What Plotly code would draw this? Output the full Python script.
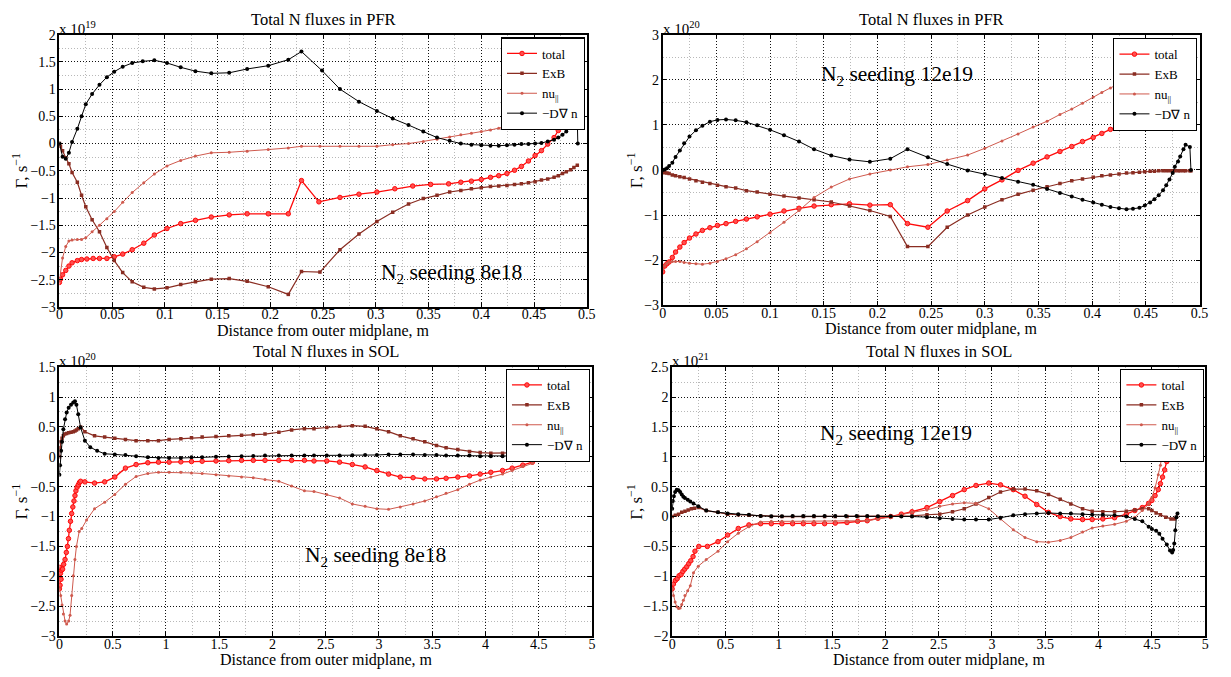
import plotly.graph_objects as go

FONT = "Liberation Serif"

# ---------------- Panel 1: PFR, N2 seeding 8e18 (units 1e19) ----------------
p1_dgn_x = [0, 0.003, 0.006, 0.009, 0.012, 0.017, 0.021, 0.025, 0.031, 0.038, 0.045, 0.052, 0.060, 0.069,
            0.079, 0.090, 0.102, 0.115, 0.129, 0.144, 0.161, 0.178, 0.198, 0.217, 0.2295, 0.249, 0.266, 0.284,
            0.301, 0.316, 0.331, 0.345, 0.358, 0.370, 0.3806, 0.3906, 0.400, 0.4087, 0.4165, 0.4243, 0.4315,
            0.438, 0.4447, 0.451, 0.457, 0.463, 0.469, 0.473, 0.477, 0.4806, 0.4847, 0.4878, 0.491, 0.4915]
p1_dgn_y = [0, -0.24, -0.28, -0.17, 0.03, 0.27, 0.50, 0.72, 0.91, 1.08, 1.22, 1.32, 1.41, 1.48,
            1.51, 1.53, 1.48, 1.40, 1.33, 1.29, 1.30, 1.37, 1.43, 1.54, 1.69, 1.34, 1.00, 0.77,
            0.60, 0.46, 0.34, 0.22, 0.11, 0.05, 0.0, -0.02, -0.03, -0.04, -0.04, -0.03, -0.02,
            -0.01, -0.01, 0.0, 0.01, 0.04, 0.07, 0.11, 0.16, 0.22, 0.31, 0.38, 0.44, 0.0]

p1_tot_x = [0, 0.001, 0.003, 0.006, 0.009, 0.012, 0.017, 0.021, 0.026, 0.032, 0.038, 0.045, 0.052, 0.060,
            0.069, 0.080, 0.090, 0.102, 0.115, 0.129, 0.144, 0.161, 0.178, 0.198, 0.217, 0.2295, 0.246,
            0.266, 0.284, 0.301, 0.318, 0.335, 0.352, 0.369, 0.3806, 0.3906, 0.400, 0.4087, 0.4165, 0.4243,
            0.4315, 0.438, 0.4447, 0.451, 0.457, 0.463, 0.469, 0.473, 0.477, 0.4806, 0.4847, 0.4878, 0.491]
p1_tot_y = [-2.55, -2.49, -2.41, -2.33, -2.25, -2.19, -2.15, -2.13, -2.12, -2.11, -2.11, -2.11, -2.08, -2.03,
            -1.95, -1.83, -1.68, -1.56, -1.47, -1.41, -1.35, -1.31, -1.29, -1.29, -1.29, -0.68, -1.07,
            -0.99, -0.93, -0.89, -0.83, -0.78, -0.75, -0.74, -0.71, -0.69, -0.66, -0.62, -0.59, -0.55,
            -0.49, -0.42, -0.32, -0.22, -0.13, -0.01, 0.11, 0.24, 0.38, 0.50, 0.62, 0.72, 0.85]

p1_exb_x = [0, 0.001, 0.003, 0.006, 0.009, 0.012, 0.017, 0.021, 0.025, 0.031, 0.038, 0.045, 0.052, 0.060,
            0.069, 0.080, 0.090, 0.102, 0.115, 0.129, 0.144, 0.161, 0.178, 0.198, 0.217, 0.2295, 0.247,
            0.266, 0.284, 0.301, 0.316, 0.331, 0.345, 0.358, 0.370, 0.3806, 0.3906, 0.400, 0.4087, 0.4165,
            0.4243, 0.4315, 0.438, 0.4447, 0.451, 0.457, 0.463, 0.469, 0.473, 0.477, 0.4806, 0.4847,
            0.4878, 0.491]
p1_exb_y = [0, -0.05, -0.13, -0.26, -0.37, -0.53, -0.71, -0.95, -1.16, -1.40, -1.62, -1.91, -2.15, -2.37,
            -2.54, -2.64, -2.67, -2.65, -2.59, -2.54, -2.49, -2.48, -2.53, -2.63, -2.77, -2.35, -2.36,
            -1.95, -1.66, -1.43, -1.26, -1.11, -1.01, -0.95, -0.89, -0.86, -0.83, -0.81, -0.79, -0.78,
            -0.77, -0.75, -0.74, -0.72, -0.70, -0.67, -0.65, -0.62, -0.59, -0.55, -0.52, -0.48,
            -0.44, -0.40]

p1_nu_x = [0, 0.003, 0.006, 0.009, 0.012, 0.017, 0.021, 0.025, 0.031, 0.038, 0.045, 0.052, 0.060, 0.069,
           0.080, 0.090, 0.102, 0.115, 0.129, 0.144, 0.161, 0.178, 0.198, 0.217, 0.2295, 0.247, 0.266,
           0.284, 0.301, 0.316, 0.331, 0.345, 0.358, 0.370, 0.3806, 0.3906, 0.400, 0.4087, 0.4165, 0.4243,
           0.4315, 0.438, 0.4447, 0.451, 0.457, 0.463, 0.469, 0.475, 0.481, 0.486, 0.491]
p1_nu_y = [-2.52, -2.10, -1.89, -1.79, -1.77, -1.76, -1.76, -1.73, -1.62, -1.50, -1.38, -1.25, -1.08, -0.90,
           -0.72, -0.56, -0.41, -0.31, -0.23, -0.17, -0.16, -0.14, -0.11, -0.08, -0.05, -0.05, -0.05,
           -0.05, -0.05, -0.02, 0.0, 0.04, 0.08, 0.12, 0.16, 0.19, 0.22, 0.25, 0.28, 0.31,
           0.34, 0.37, 0.40, 0.45, 0.50, 0.57, 0.64, 0.74, 0.85, 0.98, 1.10]

# ---------------- Panel 2: PFR, N2 seeding 12e19 (units 1e20) ----------------
p2_x = [0, 0.002, 0.004, 0.006, 0.009, 0.012, 0.016, 0.020, 0.025, 0.031, 0.037, 0.044, 0.051, 0.059,
        0.068, 0.078, 0.088, 0.100, 0.113, 0.127, 0.141, 0.157, 0.174, 0.193, 0.212, 0.228, 0.247,
        0.265, 0.284, 0.300, 0.316, 0.331, 0.345, 0.358, 0.370, 0.381, 0.391, 0.401, 0.409, 0.417,
        0.425, 0.432, 0.438, 0.444, 0.449, 0.454, 0.458, 0.462, 0.466, 0.469, 0.472, 0.475, 0.477,
        0.480, 0.482, 0.485, 0.487, 0.491, 0.492]
p2_dgn_y = [0, 0.01, 0.04, 0.09, 0.16, 0.29, 0.43, 0.59, 0.74, 0.88, 0.98, 1.07, 1.11, 1.12,
            1.10, 1.06, 0.99, 0.89, 0.77, 0.63, 0.46, 0.32, 0.23, 0.18, 0.25, 0.46, 0.28,
            0.13, -0.01, -0.09, -0.18, -0.26, -0.33, -0.42, -0.51, -0.59, -0.66, -0.72, -0.77, -0.82,
            -0.85, -0.87, -0.86, -0.84, -0.79, -0.72, -0.65, -0.56, -0.45, -0.34, -0.21, -0.07, 0.07,
            0.19, 0.30, 0.46, 0.56, 0.51, 0.0]
p2_tot_y = [-2.26, -2.13, -2.08, -2.04, -1.94, -1.82, -1.71, -1.61, -1.51, -1.42, -1.34, -1.28, -1.23, -1.19,
            -1.14, -1.09, -1.04, -0.98, -0.91, -0.85, -0.80, -0.77, -0.75, -0.78, -0.77, -1.19, -1.27,
            -0.91, -0.68, -0.42, -0.22, -0.01, 0.15, 0.29, 0.41, 0.52, 0.63, 0.72, 0.81, 0.90,
            0.98, 1.06, 1.12, 1.19, 1.27, 1.36, 1.42, 1.48, 1.54, 1.58, 1.62, 1.66, 1.69,
            1.73, 1.76, 1.80, 1.83, 1.88, 1.90]
p2_exb_y = [-0.05, -0.06, -0.07, -0.08, -0.11, -0.13, -0.15, -0.17, -0.20, -0.24, -0.27, -0.30, -0.34, -0.37,
            -0.40, -0.46, -0.49, -0.54, -0.58, -0.62, -0.66, -0.71, -0.80, -0.90, -1.03, -1.70, -1.70,
            -1.27, -1.00, -0.82, -0.66, -0.54, -0.45, -0.37, -0.30, -0.24, -0.20, -0.16, -0.13, -0.11,
            -0.09, -0.07, -0.06, -0.05, -0.04, -0.03, -0.03, -0.02, -0.02, -0.02, -0.02, -0.02, -0.02,
            -0.02, -0.02, -0.02, -0.02, -0.02, -0.02]
p2_nu_y = [-2.20, -2.12, -2.07, -2.04, -2.03, -2.03, -2.03, -2.05, -2.07, -2.08, -2.09, -2.07, -2.03, -1.97,
           -1.88, -1.75, -1.59, -1.39, -1.16, -0.90, -0.61, -0.38, -0.20, -0.09, 0.0, 0.07, 0.12,
           0.22, 0.33, 0.48, 0.64, 0.80, 0.95, 1.08, 1.23, 1.35, 1.48, 1.62, 1.72, 1.82,
           1.91, 1.97, 2.02, 2.08, 2.12, 2.16, 2.19, 2.22, 2.25, 2.27, 2.29, 2.31, 2.33,
           2.35, 2.36, 2.38, 2.39, 2.41, 2.42]

# ---------------- Panel 3: SOL, N2 seeding 8e18 (units 1e20) ----------------
p3_dgn_x = [0, 0.006, 0.016, 0.025, 0.037, 0.053, 0.068, 0.087, 0.109, 0.13, 0.146, 0.16, 0.177, 0.199, 0.239,
            0.29, 0.354, 0.425, 0.52, 0.62, 0.72, 0.83, 0.93, 1.03, 1.14, 1.24, 1.34, 1.47, 1.59, 1.71,
            1.82, 1.93, 2.06, 2.18, 2.30, 2.39, 2.51, 2.63, 2.75, 2.87, 2.98, 3.09, 3.20, 3.32, 3.43,
            3.54, 3.63, 3.74, 3.85, 3.95, 4.05, 4.16, 4.25, 4.35, 4.44, 4.50, 4.55, 4.60, 4.65, 4.69,
            4.72, 4.73, 4.74]
p3_dgn_y = [-0.30, -0.14, 0.10, 0.25, 0.46, 0.63, 0.74, 0.82, 0.87, 0.91, 0.93, 0.87, 0.71, 0.49, 0.27,
            0.16, 0.10, 0.05, 0.04, 0.03, 0.01, -0.01, -0.02, -0.02, -0.02, -0.01, -0.01, 0.0, 0.005, 0.01,
            0.015, 0.02, 0.02, 0.02, 0.02, 0.02, 0.02, 0.02, 0.025, 0.03, 0.03, 0.04, 0.04, 0.04, 0.03,
            0.03, 0.02, 0.02, 0.02, 0.01, 0.01, 0.01, 0.01, 0.01, 0.01, 0.0, -0.02, -0.04, -0.05, -0.04,
            0.0, 0.22, 0.02]

p3_exb_x = [0, 0.006, 0.012, 0.025, 0.037, 0.05, 0.068, 0.087, 0.109, 0.13, 0.146, 0.16, 0.177, 0.199, 0.239,
            0.33, 0.425, 0.52, 0.62, 0.72, 0.83, 0.93, 1.03, 1.14, 1.24, 1.34, 1.47, 1.59, 1.71, 1.82,
            1.93, 2.06, 2.18, 2.30, 2.39, 2.51, 2.63, 2.75, 2.87, 2.98, 3.09, 3.20, 3.32, 3.43, 3.54,
            3.63, 3.74, 3.85, 3.95, 4.05, 4.16, 4.25, 4.35, 4.44, 4.49, 4.55, 4.62, 4.68, 4.72]
p3_exb_y = [0, 0.15, 0.25, 0.31, 0.35, 0.38, 0.39, 0.40, 0.41, 0.42, 0.43, 0.45, 0.47, 0.50, 0.42,
            0.35, 0.33, 0.31, 0.29, 0.27, 0.27, 0.27, 0.29, 0.30, 0.32, 0.33, 0.34, 0.35, 0.36, 0.37,
            0.38, 0.41, 0.45, 0.47, 0.47, 0.49, 0.51, 0.52, 0.51, 0.47, 0.42, 0.35, 0.30, 0.25, 0.19,
            0.15, 0.12, 0.09, 0.07, 0.06, 0.06, 0.06, 0.07, 0.08, 0.11, 0.13, 0.08, 0.04, 0.02]

p3_tot_x = [0, 0.003, 0.006, 0.01, 0.015, 0.02, 0.03, 0.04, 0.053, 0.065, 0.075, 0.085, 0.093, 0.104, 0.115,
            0.126, 0.137, 0.146, 0.155, 0.166, 0.177, 0.188, 0.199, 0.239, 0.33, 0.425, 0.52, 0.62, 0.72,
            0.83, 0.93, 1.03, 1.14, 1.24, 1.34, 1.47, 1.59, 1.71, 1.82, 1.93, 2.06, 2.18, 2.30, 2.39,
            2.51, 2.63, 2.75, 2.87, 2.98, 3.09, 3.20, 3.32, 3.43, 3.54, 3.63, 3.74, 3.85, 3.95, 4.05,
            4.16, 4.25, 4.35, 4.44, 4.50, 4.56, 4.63, 4.70]
p3_tot_y = [-2.21, -1.85, -2.15, -1.95, -2.05, -1.90, -1.88, -1.80, -1.72, -1.60, -1.50, -1.37, -1.23, -1.08, -0.95,
            -0.84, -0.74, -0.65, -0.57, -0.51, -0.47, -0.43, -0.41, -0.42, -0.44, -0.42, -0.34, -0.19, -0.13,
            -0.10, -0.09, -0.09, -0.085, -0.08, -0.075, -0.07, -0.065, -0.06, -0.06, -0.06, -0.06, -0.06, -0.06, -0.07,
            -0.07, -0.09, -0.13, -0.17, -0.23, -0.29, -0.34, -0.35, -0.37, -0.37, -0.36, -0.34, -0.32, -0.29, -0.26,
            -0.23, -0.19, -0.14, -0.09, 0.02, 0.10, 0.19, 0.28]

p3_nu_x = [0, 0.012, 0.025, 0.037, 0.053, 0.068, 0.087, 0.1, 0.115, 0.13, 0.146, 0.16, 0.186, 0.21, 0.255,
           0.33, 0.425, 0.52, 0.62, 0.72, 0.83, 0.93, 1.03, 1.14, 1.24, 1.34, 1.47, 1.59, 1.71, 1.82,
           1.93, 2.06, 2.18, 2.30, 2.39, 2.51, 2.63, 2.75, 2.87, 2.98, 3.09, 3.20, 3.32, 3.43, 3.54,
           3.63, 3.74, 3.85, 3.95, 4.05, 4.16, 4.25, 4.35, 4.44, 4.50, 4.56, 4.63, 4.70]
p3_nu_y = [-2.20, -2.32, -2.48, -2.63, -2.75, -2.80, -2.75, -2.65, -2.32, -1.99, -1.72, -1.50, -1.25, -1.20, -1.06,
           -0.87, -0.76, -0.63, -0.46, -0.33, -0.28, -0.26, -0.26, -0.26, -0.27, -0.28, -0.30, -0.32, -0.34, -0.35,
           -0.38, -0.41, -0.49, -0.57, -0.58, -0.63, -0.69, -0.79, -0.83, -0.87, -0.88, -0.84, -0.79, -0.74, -0.67,
           -0.61, -0.55, -0.46, -0.39, -0.34, -0.29, -0.23, -0.16, -0.11, -0.03, 0.08, 0.18, 0.27]

# ---------------- Panel 4: SOL, N2 seeding 12e19 (units 1e21) ----------------
p4_dgn_x = [0, 0.006, 0.016, 0.028, 0.043, 0.06, 0.075, 0.09, 0.105, 0.12, 0.146, 0.17, 0.2, 0.245, 0.32,
            0.43, 0.52, 0.62, 0.72, 0.83, 0.93, 1.03, 1.13, 1.23, 1.33, 1.43, 1.53, 1.63, 1.73, 1.83,
            1.93, 2.05, 2.15, 2.25, 2.39, 2.51, 2.63, 2.74, 2.85, 2.97, 3.08, 3.20, 3.31, 3.42, 3.53,
            3.64, 3.74, 3.85, 3.94, 4.04, 4.15, 4.26, 4.34, 4.41, 4.47, 4.50, 4.54, 4.57, 4.60, 4.64,
            4.67, 4.69, 4.70, 4.71, 4.72, 4.73, 4.74]
p4_dgn_y = [0.13, 0.26, 0.34, 0.41, 0.45, 0.44, 0.41, 0.37, 0.33, 0.31, 0.28, 0.25, 0.22, 0.17, 0.10,
            0.07, 0.05, 0.04, 0.03, 0.01, 0.005, 0.005, 0.01, 0.01, 0.01, 0.01, 0.01, 0.01, 0.01, 0.01,
            0.005, 0.005, 0.0, 0.0, -0.01, -0.03, -0.04, -0.05, -0.05, -0.05, -0.02, 0.02, 0.04, 0.05, 0.06,
            0.05, 0.05, 0.04, 0.03, 0.03, 0.02, 0.0, -0.04, -0.08, -0.17, -0.21, -0.24, -0.29, -0.37, -0.47,
            -0.57, -0.60, -0.56, -0.45, -0.23, -0.01, 0.05]

p4_tot_x = [0, 0.012, 0.03, 0.047, 0.065, 0.084, 0.1, 0.118, 0.137, 0.155, 0.174, 0.196, 0.214, 0.25, 0.33,
            0.43, 0.52, 0.62, 0.72, 0.83, 0.93, 1.03, 1.13, 1.23, 1.33, 1.43, 1.53, 1.64, 1.74, 1.83,
            1.93, 2.05, 2.15, 2.25, 2.39, 2.51, 2.63, 2.74, 2.85, 2.97, 3.08, 3.20, 3.31, 3.42, 3.53,
            3.64, 3.74, 3.85, 3.94, 4.04, 4.15, 4.26, 4.34, 4.41, 4.47, 4.50, 4.53, 4.56, 4.58, 4.60,
            4.62, 4.64, 4.65, 4.67, 4.69, 4.70]
p4_tot_y = [-1.21, -1.13, -1.07, -1.04, -0.99, -0.97, -0.92, -0.88, -0.84, -0.79, -0.74, -0.67, -0.58, -0.50, -0.50,
            -0.42, -0.31, -0.20, -0.14, -0.12, -0.12, -0.12, -0.12, -0.12, -0.12, -0.12, -0.11, -0.10, -0.08, -0.07,
            -0.03, 0.0, 0.04, 0.08, 0.15, 0.25, 0.35, 0.45, 0.52, 0.56, 0.53, 0.45, 0.34, 0.20, 0.07,
            0.0, -0.04, -0.05, -0.05, -0.04, -0.02, 0.04, 0.10, 0.15, 0.22, 0.27, 0.35, 0.45, 0.55, 0.66,
            0.78, 0.92, 1.00, 1.18, 1.40, 1.60]

p4_exb_x = [0, 0.03, 0.06, 0.09, 0.12, 0.15, 0.18, 0.21, 0.25, 0.32, 0.43, 0.52, 0.62, 0.72, 0.83,
            0.93, 1.03, 1.13, 1.23, 1.33, 1.43, 1.53, 1.64, 1.74, 1.83, 1.93, 2.05, 2.15, 2.25, 2.39,
            2.51, 2.63, 2.74, 2.85, 2.97, 3.08, 3.20, 3.31, 3.42, 3.53, 3.64, 3.74, 3.85, 3.94, 4.04,
            4.15, 4.26, 4.34, 4.41, 4.47, 4.50, 4.54, 4.58, 4.63, 4.68, 4.71, 4.73]
p4_exb_y = [0, 0.02, 0.04, 0.07, 0.09, 0.11, 0.13, 0.14, 0.15, 0.10, 0.07, 0.04, 0.03, 0.02, 0.01,
            0.0, 0.0, 0.0, 0.0, 0.0, 0.0, 0.0, 0.0, 0.0, 0.0, 0.0, 0.0, 0.005, 0.01, 0.03,
            0.04, 0.08, 0.13, 0.21, 0.32, 0.41, 0.46, 0.46, 0.43, 0.37, 0.29, 0.21, 0.13, 0.09, 0.08,
            0.08, 0.09, 0.11, 0.13, 0.13, 0.10, 0.06, 0.03, -0.01, -0.04, -0.04, -0.01]

p4_nu_x = [0, 0.012, 0.028, 0.043, 0.06, 0.075, 0.09, 0.105, 0.12, 0.146, 0.17, 0.2, 0.245, 0.32, 0.43,
           0.52, 0.62, 0.72, 0.83, 0.93, 1.03, 1.13, 1.23, 1.33, 1.43, 1.53, 1.64, 1.74, 1.83, 1.93,
           2.05, 2.15, 2.25, 2.39, 2.51, 2.63, 2.74, 2.85, 2.97, 3.08, 3.20, 3.31, 3.42, 3.53, 3.64,
           3.74, 3.85, 3.94, 4.04, 4.15, 4.26, 4.34, 4.41, 4.47, 4.50, 4.53, 4.56, 4.58, 4.60, 4.62,
           4.64, 4.66]
p4_nu_y = [-1.21, -1.32, -1.43, -1.51, -1.54, -1.53, -1.47, -1.40, -1.32, -1.24, -1.16, -0.94, -0.83, -0.72, -0.58,
           -0.42, -0.28, -0.17, -0.09, -0.08, -0.08, -0.08, -0.08, -0.08, -0.08, -0.08, -0.08, -0.08, -0.07, -0.04,
           -0.01, 0.03, 0.07, 0.11, 0.17, 0.21, 0.23, 0.22, 0.13, -0.04, -0.22, -0.35, -0.42, -0.43, -0.40,
           -0.35, -0.26, -0.19, -0.16, -0.13, -0.08, -0.01, 0.10, 0.21, 0.32, 0.48, 0.70, 0.86, 1.08, 1.24,
           1.45, 1.70]

# ---------------- text ----------------
titles = ["Total N fluxes in PFR", "Total N fluxes in PFR", "Total N fluxes in SOL", "Total N fluxes in SOL"]
exponents = ["19", "20", "20", "21"]
seeding = ["N<sub>2</sub> seeding 8e18", "N<sub>2</sub> seeding 12e19",
           "N<sub>2</sub> seeding 8e18", "N<sub>2</sub> seeding 12e19"]
seeding_pos = [(0.3715, -2.38), (0.218, 2.1), (2.97, -1.67), (2.10, 1.375)]
xlabel = "Distance from outer midplane, m"
ylabel = "Γ, s<sup>−1</sup>"
series_names = ["total", "ExB", "nu<sub>||</sub>", "−D∇ n"]

# ---------------- styles ----------------
styles = [
    dict(color="#ff0a0a", symbol="circle", size=4.5, width=1.3, mfill="#ff5050", mlw=1),
    dict(color="#8a2d22", symbol="square", size=3.5, width=1.2, mfill="#8a2d22", mlw=0),
    dict(color="#cf5a4e", symbol="circle", size=3, width=1.0, mfill="#cf5a4e", mlw=0),
    dict(color="#000000", symbol="circle", size=4, width=1.0, mfill="#000000", mlw=0),
]

panels = [
    dict(series=[(p1_tot_x, p1_tot_y), (p1_exb_x, p1_exb_y), (p1_nu_x, p1_nu_y), (p1_dgn_x, p1_dgn_y)],
         xd=[56 / 1231, 589 / 1231], yd=[1 - 306.7 / 677, 1 - 28.3 / 677],
         xr=[0, 0.5], yr=[-3, 2], xdt=0.05, ydt=0.5, xm=0.025, ym=0.25,
         leg=(587 / 1231, 1 - 31 / 677), ylab_x=16 / 1231),
    dict(series=[(p2_x, p2_tot_y), (p2_x, p2_exb_y), (p2_x, p2_nu_y), (p2_x, p2_dgn_y)],
         xd=[665.7 / 1231, 1208.3 / 1231], yd=[1 - 305 / 677, 1 - 28.3 / 677],
         xr=[0, 0.5], yr=[-3, 3], xdt=0.05, ydt=1, xm=0.025, ym=0.5,
         leg=(1206 / 1231, 1 - 31.7 / 677), ylab_x=638 / 1231),
    dict(series=[(p3_tot_x, p3_tot_y), (p3_exb_x, p3_exb_y), (p3_nu_x, p3_nu_y), (p3_dgn_x, p3_dgn_y)],
         xd=[56 / 1231, 594.3 / 1231], yd=[1 - 643.3 / 677, 1 - 368.3 / 677],
         xr=[0, 5], yr=[-3, 1.5], xdt=0.5, ydt=0.5, xm=0.25, ym=0.25,
         leg=(592 / 1231, 1 - 370 / 677), ylab_x=16 / 1231),
    dict(series=[(p4_tot_x, p4_tot_y), (p4_exb_x, p4_exb_y), (p4_nu_x, p4_nu_y), (p4_dgn_x, p4_dgn_y)],
         xd=[675.3 / 1231, 1214 / 1231], yd=[1 - 643.3 / 677, 1 - 368.3 / 677],
         xr=[0, 5], yr=[-2, 2.5], xdt=0.5, ydt=0.5, xm=0.25, ym=0.25,
         leg=(1213 / 1231, 1 - 370 / 677), ylab_x=637 / 1231),
]

fig = go.Figure()
layout = dict(
    width=1231, height=677, margin=dict(l=0, r=0, t=0, b=0),
    paper_bgcolor="white", plot_bgcolor="white",
    font=dict(family=FONT, size=14, color="black"),
)
annotations = []

for i, p in enumerate(panels):
    n = "" if i == 0 else str(i + 1)
    xa, ya = "x" + n, "y" + n
    legname = "legend" + n
    for (sx, sy), nm, st in zip(p["series"], series_names, styles):
        fig.add_trace(go.Scatter(
            x=sx, y=sy, mode="lines+markers", name=nm, xaxis=xa, yaxis=ya, legend=legname,
            line=dict(color=st["color"], width=st["width"]),
            marker=dict(symbol=st["symbol"], size=st["size"], color=st["mfill"],
                        line=dict(color=st["color"], width=st["mlw"])),
        ))
    common = dict(showline=True, linecolor="black", linewidth=1.5, mirror="ticks",
                  ticks="inside", ticklen=4, tickcolor="black", zeroline=False,
                  showgrid=True, gridcolor="#111111", griddash="1px,2px", gridwidth=1,
                  tickfont=dict(family=FONT, size=14, color="black"))
    layout["xaxis" + n] = dict(domain=p["xd"], range=p["xr"], dtick=p["xdt"], tick0=0, anchor=ya,
                               ticklabelstandoff=-6,
                               minor=dict(dtick=p["xm"], showgrid=True, gridcolor="#b8b8b8",
                                          griddash="1px,2px", gridwidth=1), **common)
    layout["yaxis" + n] = dict(domain=p["yd"], range=p["yr"], dtick=p["ydt"], tick0=0, anchor=xa,
                               ticklabelstandoff=-1,
                               minor=dict(dtick=p["ym"], showgrid=True, gridcolor="#b8b8b8",
                                          griddash="1px,2px", gridwidth=1), **common)
    layout[legname] = dict(x=p["leg"][0], y=p["leg"][1], xanchor="right", yanchor="top",
                           bgcolor="white", bordercolor="black", borderwidth=1.2,
                           font=dict(family=FONT, size=13, color="black"),
                           itemwidth=30, tracegroupgap=0)
    # title
    annotations.append(dict(text=titles[i], xref=xa + " domain", yref=ya + " domain", x=0.5, y=1,
                            xanchor="center", yanchor="bottom", yshift=4, showarrow=False,
                            font=dict(family=FONT, size=16.5)))
    # exponent
    annotations.append(dict(text="x 10<sup>" + exponents[i] + "</sup>", xref=xa + " domain",
                            yref=ya + " domain", x=0, y=1, xanchor="left", yanchor="bottom",
                            xshift=-2, yshift=-4, showarrow=False, font=dict(family=FONT, size=15)))
    # x label
    annotations.append(dict(text=xlabel, xref=xa + " domain", yref=ya + " domain", x=0.5, y=0,
                            xanchor="center", yanchor="top", yshift=-13, showarrow=False,
                            font=dict(family=FONT, size=16)))
    # y label
    annotations.append(dict(text=ylabel, xref="paper", yref=ya + " domain", x=p["ylab_x"], y=0.5,
                            xanchor="center", yanchor="middle", textangle=-90, showarrow=False,
                            font=dict(family=FONT, size=17)))
    # seeding label
    annotations.append(dict(text=seeding[i], xref=xa, yref=ya, x=seeding_pos[i][0], y=seeding_pos[i][1],
                            xanchor="center", yanchor="middle", showarrow=False,
                            font=dict(family=FONT, size=21.5)))

layout["annotations"] = annotations
layout["showlegend"] = True
fig.update_layout(**layout)
fig.write_html("out.html")
